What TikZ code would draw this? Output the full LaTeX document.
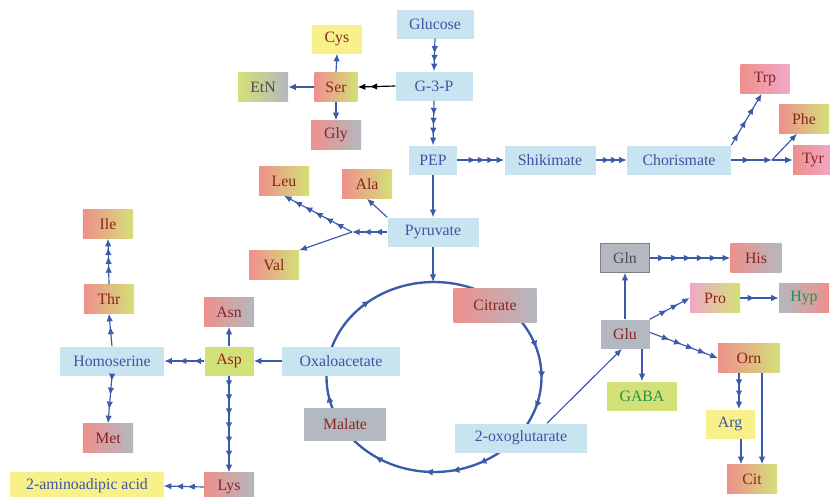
\documentclass[tikz,border=0pt]{standalone}
\usepackage{fontspec}
\setmainfont{Liberation Serif}
\usetikzlibrary{arrows.meta,decorations.markings}

\definecolor{paleblue}{HTML}{C8E4F0}
\definecolor{textblue}{HTML}{3C55A5}
\definecolor{linkblue}{HTML}{3A5AAA}
\definecolor{salmon}{HTML}{EE908C}
\definecolor{lime}{HTML}{D4E078}
\definecolor{steel}{HTML}{B4B8C0}
\definecolor{lemon}{HTML}{F8F088}
\definecolor{rose}{HTML}{F0A8C8}
\definecolor{darkred}{HTML}{8C2323}
\definecolor{leaf}{HTML}{1E9646}
\definecolor{ink}{HTML}{4D4D4D}

\tikzset{
  box/.style={inner sep=0pt, minimum height=0.87cm, font=\fontsize{13.5}{16}\selectfont},
  pale/.style={box, fill=paleblue, text=textblue},
  amino/.style 2 args={box, left color=#1, right color=#2, text=darkred},
  flat/.style 2 args={box, fill=#1, text=#2},
  link/.style={draw=linkblue, line width=1pt, -{Latex[length=6.5pt,width=5.5pt]}},
  heads/.style 2 args={link, decoration={markings,
      mark=between positions -#2*(#1-1) and -0.5*#2 step #2 with {\arrow{Latex[length=6.5pt,width=5.5pt]}}},
    postaction={decorate}},
  tca/.style={draw=linkblue, line width=2pt, decoration={markings,
      mark=at position 0.003 with {\arrow{Latex[length=6.5pt,width=6pt]}},
      mark=at position 0.051 with {\arrow{Latex[length=6.5pt,width=6pt]}},
      mark=at position 0.178 with {\arrow{Latex[length=6.5pt,width=6pt]}},
      mark=at position 0.222 with {\arrow{Latex[length=6.5pt,width=6pt]}},
      mark=at position 0.264 with {\arrow{Latex[length=6.5pt,width=6pt]}},
      mark=at position 0.347 with {\arrow{Latex[length=6.5pt,width=6pt]}},
      mark=at position 0.472 with {\arrow{Latex[length=6.5pt,width=6pt]}},
      mark=at position 0.644 with {\arrow{Latex[length=6.5pt,width=6pt]}},
      mark=at position 0.954 with {\arrow{Latex[length=6.5pt,width=6pt]}}},
    postaction={decorate}},
}

\begin{document}
\begin{tikzpicture}[x=0.03cm, y=-0.03cm]
  \useasboundingbox (0,0) rectangle (830,496);

  % TCA cycle
  \draw[tca] (434,377) ellipse [x radius=107.5, y radius=95];
  \coordinate (cyctop) at (433,282);

  % glycolysis and shikimate
  \node[pale, minimum width=2.31cm] (glc) at (435,24) {Glucose};
  \node[pale, minimum width=2.31cm] (g3p) at (434,86) {G-3-P};
  \node[pale, minimum width=1.44cm] (pep) at (433,160) {PEP};
  \node[pale, minimum width=2.73cm] (shik) at (550,160) {Shikimate};
  \node[pale, minimum width=3.12cm] (chor) at (679,160) {Chorismate};
  \node[pale, minimum width=2.73cm] (pyr) at (433,232) {Pyruvate};

  \node[amino={salmon}{rose}, minimum width=1.47cm] (trp) at (765,79) {Trp};
  \node[amino={salmon}{lime}, minimum width=1.5cm] (phe) at (804,119) {Phe};
  \node[amino={salmon}{rose}, minimum width=1.2cm] (tyr) at (813,160) {Tyr};
  \coordinate (fork) at (772,160);

  % serine family
  \node[flat={lemon}{darkred}, minimum width=1.5cm] (cys) at (337,39) {Cys};
  \node[amino={salmon}{lime}, minimum width=1.29cm] (ser) at (336,87) {Ser};
  \node[box, left color=lime, right color=steel, text=ink, minimum width=1.5cm] (etn) at (263,87) {EtN};
  \node[amino={salmon}{steel}, minimum width=1.5cm] (gly) at (336,135) {Gly};

  % pyruvate family
  \node[amino={salmon}{lime}, minimum width=1.5cm] (leu) at (284,181) {Leu};
  \node[amino={salmon}{lime}, minimum width=1.5cm] (ala) at (367,184) {Ala};
  \node[amino={salmon}{lime}, minimum width=1.5cm] (val) at (274,265) {Val};
  \coordinate (vj) at (352,232);

  % aspartate family
  \node[amino={salmon}{lime}, minimum width=1.5cm] (ile) at (108,224) {Ile};
  \node[amino={salmon}{lime}, minimum width=1.5cm] (thr) at (109,299) {Thr};
  \node[amino={salmon}{steel}, minimum width=1.5cm] (asn) at (229,312) {Asn};
  \node[pale, minimum width=3.12cm] (hom) at (112,361) {Homoserine};
  \node[flat={lime}{darkred}, minimum width=1.47cm] (asp) at (229,361) {Asp};
  \node[amino={salmon}{steel}, minimum width=1.5cm] (met) at (108,438) {Met};
  \node[flat={lemon}{textblue}, minimum width=4.59cm] (aaa) at (87,486) {2-aminoadipic acid};
  \node[amino={salmon}{steel}, minimum width=1.5cm] (lys) at (229,487) {Lys};

  % cycle intermediates
  \node[pale, minimum width=3.54cm] (oaa) at (341,361) {Oxaloacetate};
  \node[amino={salmon}{steel}, minimum width=2.49cm, minimum height=1.02cm] (citrate) at (495,305) {Citrate};
  \node[flat={steel}{darkred}, minimum width=2.46cm, minimum height=0.99cm] (mal) at (345,424) {Malate};
  \node[pale, minimum width=3.96cm] (oxo) at (521,438) {2-oxoglutarate};

  % glutamate family
  \node[flat={steel}{ink}, draw=gray, minimum width=1.47cm] (gln) at (625,258) {Gln};
  \node[amino={salmon}{steel}, minimum width=1.53cm] (his) at (756,258) {His};
  \node[amino={rose}{lime}, minimum width=1.5cm] (pro) at (715,298) {Pro};
  \node[box, left color=steel, right color=salmon, text=leaf, minimum width=1.5cm] (hyp) at (804,298) {Hyp};
  \node[flat={steel}{darkred}, minimum width=1.47cm] (glu) at (625,334) {Glu};
  \node[amino={salmon}{lime}, minimum width=1.86cm] (orn) at (749,358) {Orn};
  \node[flat={lime}{leaf}, minimum width=2.1cm] (gaba) at (642,396) {GABA};
  \node[flat={lemon}{textblue}, minimum width=1.47cm] (arg) at (730,424) {Arg};
  \node[amino={salmon}{lime}, minimum width=1.5cm] (cit) at (752,479) {Cit};

  % arrows
  \draw[heads={3}{7.5pt}] (glc.south) -- (g3p.north);
  \draw[heads={4}{8.5pt}] (g3p.south) -- (pep.north);
  \draw[heads={2}{10pt}, draw=black] (g3p.west) -- (ser.east);
  \draw[link] (ser.north) -- (cys.south);
  \draw[link] (ser.west) -- (etn.east);
  \draw[link] (ser.south) -- (gly.north);
  \draw[heads={4}{8pt}] (pep.east) -- (shik.west);
  \draw[heads={3}{7pt}] (shik.east) -- (chor.west);
  \draw[heads={4}{13pt}] (chor.north east) -- ([xshift=-0.1cm]trp.south);
  \draw[heads={2}{18.5pt}] (chor.east) -- (fork);
  \draw[link] (fork) -- (tyr.west);
  \draw[link] (fork) -- ([xshift=-0.21cm]phe.south);

  \draw[link] (pep.south) -- (pyr.north);
  \draw[link] (pyr.south) -- (cyctop);
  \draw[link] (pyr.north west) -- (ala.south);
  \draw[heads={3}{9.5pt}] (pyr.west) -- (vj);
  \draw[heads={6}{10pt}] (vj) -- (leu.south);
  \draw[link] (vj) -- (val.north east);

  \draw[link] (oaa.west) -- (asp.east);
  \draw[link] (asp.north) -- (asn.south);
  \draw[heads={3}{12.5pt}] (asp.west) -- (hom.east);
  \draw[heads={2}{11pt}] (hom.north) -- (thr.south);
  \draw[heads={4}{7.5pt}] (thr.north) -- (ile.south);
  \draw[heads={4}{12pt}] (hom.south) -- (met.north);
  \draw[heads={7}{12pt}] (asp.south) -- (lys.north);
  \draw[heads={3}{10pt}] (lys.west) -- (aaa.east);

  \draw[link] ([xshift=0.78cm]oxo.north) -- ([xshift=-0.09cm]glu.south);
  \draw[link] (glu.north) -- (gln.south);
  \draw[link] (glu.south -| gaba.north) -- (gaba.north);
  \draw[heads={6}{11pt}] (gln.east) -- (his.west);
  \draw[heads={3}{11pt}] (glu.north east) -- (pro.west);
  \draw[heads={2}{20pt}] (pro.east) -- (hyp.west);
  \draw[heads={5}{11pt}] ([yshift=0.05cm]glu.east) -- (orn.west);
  \coordinate (ornl) at ([xshift=-0.3cm]orn.south);
  \coordinate (ornr) at ([xshift=0.39cm]orn.south);
  \coordinate (argb) at ([xshift=0.33cm]arg.south);
  \draw[heads={3}{9.5pt}] (ornl) -- (ornl |- arg.north);
  \draw[link] (ornr) -- (ornr |- cit.north);
  \draw[link] (argb) -- (argb |- cit.north);
\end{tikzpicture}
\end{document}
